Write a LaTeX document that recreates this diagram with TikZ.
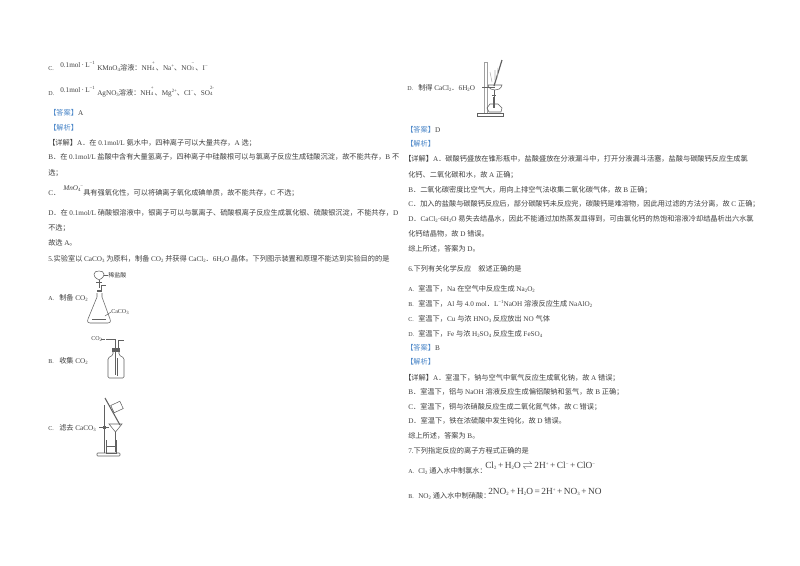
\documentclass[tikz,border=0pt]{standalone}
\usepackage{fontspec}
\setmainfont{Liberation Serif}
\newfontfamily\cjk{Noto Sans CJK SC}
\newXeTeXintercharclass\Zcl
\newcount\zc
\zc="3000 \loop \XeTeXcharclass\zc=\Zcl \advance\zc 1 \ifnum\zc<"A000 \repeat
\zc="FF00 \loop \XeTeXcharclass\zc=\Zcl \advance\zc 1 \ifnum\zc<"FFF0 \repeat
\XeTeXinterchartoks 0 \Zcl={\cjk}
\XeTeXinterchartoks \Zcl 0={\rmfamily}
\XeTeXinterchartoks 4095 \Zcl={\cjk}
\XeTeXinterchartoks 4095 0={\rmfamily}
\XeTeXinterchartokenstate=1
\newcounter{tn}
\definecolor{ink}{gray}{0.25}
\definecolor{lin}{gray}{0.38}
\definecolor{tag}{HTML}{4A86C8}
\tikzset{
  txt/.style={anchor=base west,inner sep=0pt,text=ink,font=\fontsize{5.4}{6.4}\selectfont},
  small/.style={font=\fontsize{4.5}{5}\selectfont},
  blue/.style={text=tag},
  eqn/.style={font=\fontsize{7}{8}\selectfont},
  app/.style={draw=lin,line width=0.4pt,fill=none},
}
\newcommand{\T}[4][]{\stepcounter{tn}\node[txt,#1] (t\arabic{tn}) at (#2,{#3+2.4}) {#4};}
\newcommand{\dn}[1]{\raisebox{-0.7pt}{\fontsize{3.6}{4}\selectfont #1}}
\newcommand{\up}[1]{\raisebox{2.4pt}{\fontsize{3.6}{4}\selectfont #1}}
\newcommand{\Ion}[2]{\rlap{\raisebox{4.5pt}{\fontsize{3.6}{4}\selectfont #1}}\raisebox{0.3pt}{\fontsize{3.6}{4}\selectfont #2}\hspace{1pt}}
\begin{document}
\begin{tikzpicture}[x=0.75pt,y=-0.75pt]
\useasboundingbox[fill=white] (0,0) rectangle (800,565);
% left column
\T[small]{48}{68}{C.}
\T{60}{65}{0.1mol\,·\,L\up{−1}}
\T{97}{68}{KMnO\dn{4}溶液：NH\Ion{+}{4}、Na\up{+}、NO\Ion{−}{3}、I\up{−}}
\T[small]{48}{93}{D.}
\T{60}{90}{0.1mol\,·\,L\up{−1}}
\T{97}{93}{AgNO\dn{3}溶液：NH\Ion{+}{4}、Mg\up{2+}、Cl\up{−}、SO\Ion{2-}{4}}
\T[blue]{49}{113}{【答案】\textcolor{ink}{A}}
\T[blue]{49}{128}{【解析】}
\T{48}{143}{【详解】A．在 0.1mol/L 氨水中，四种离子可以大量共存，A 选；}
\T{48}{157}{B．在 0.1mol/L 盐酸中含有大量氢离子，四种离子中硅酸根可以与氯离子反应生成硅酸沉淀，故不能共存，B 不}
\T{48}{173}{选；}
\T{48}{193}{C．}
\T{63}{188}{\textit{MnO}\dn{4}\up{−}}
\T{83}{193}{具有强氧化性，可以将碘离子氧化成碘单质，故不能共存，C 不选；}
\T{48}{213}{D．在 0.1mol/L 硝酸银溶液中，银离子可以与氯离子、硫酸根离子反应生成氯化银、硫酸银沉淀，不能共存，D}
\T{48}{228}{不选；}
\T{48}{243}{故选 A。}
\T{48}{259}{5.实验室以 CaCO\dn{3} 为原料，制备 CO\dn{2} 并获得 CaCl\dn{2}．6H\dn{2}O 晶体。下列图示装置和原理不能达到实验目的的是}
\T[small]{48}{298}{A.}
\T{59}{298}{制备 CO\dn{2}}
\T[small]{48}{361}{B.}
\T{59}{361}{收集 CO\dn{2}}
\T[small]{48}{428}{C.}
\T{59}{428}{滤去 CaCO\dn{3}}
% apparatus A
\draw[app] (94,274) .. controls (94,270) and (104,270) .. (104,274) .. controls (104,278) and (100,279) .. (99,280) .. controls (98,279) and (94,278) .. (94,274);
\draw[app] (99,280) -- (99,288);
\draw[app] (96,282) -- (102,282);
\draw[app,line width=2pt] (97,291) -- (102,291);
\draw[app] (97,293) -- (97,297) -- (88,319) .. controls (87,322) and (88,323) .. (90,323) -- (108,323) .. controls (110,323) and (111,322) .. (110,319) -- (102,297) -- (102,293);
\draw[app] (101,285) -- (101,290) (101,285) -- (106,285);
\draw[app] (92,319) -- (106,319);
\draw[app] (104,275) -- (108,275);
\T[small]{108}{275}{稀盐酸}
\draw[app] (105,316) -- (111,312);
\T[small]{111}{311}{CaCO\dn{3}}
% apparatus B
\T[small]{91}{338}{CO\dn{2}}
\draw[app] (101,339) -- (105,339);
\draw[app] (106,339.5) -- (115,339.5) -- (115,375);
\draw[app] (118,350) -- (118,340) -- (124,340);
\draw[app,line width=3pt] (112,350) -- (120,350);
\draw[app,rounded corners=1pt] (113,352) -- (113,355) -- (108,358) -- (108,378) -- (124,378) -- (124,358) -- (119,355) -- (119,352);
\draw[app] (117,358) -- (117,376);
% apparatus C
\draw[app,line width=0.7pt] (104,405) -- (104,453);
\draw[app,rounded corners=0.5pt] (97,453) rectangle (120,456);
\draw[app] (99,427) -- (109,427);
\draw[app] (103,426) rectangle (105,428);
\draw[app] (109,424) -- (122,424) -- (115.5,432) -- cycle;
\draw[app] (115.5,432) -- (115.5,452);
\draw[app] (106,440) -- (106,453) -- (116,453) -- (116,440);
\draw[app] (106,446) -- (116,446);
\draw[app,line width=0.8pt] (105,398) -- (120,425);
\draw[app,rotate around={25:(117,407)}] (112,403) rectangle (122,411);
% apparatus D
\T[small]{407}{88}{D.}
\T{418}{88}{制得 CaCl\dn{2}．6H\dn{2}O}
\draw[app,draw=lin!60] (484.5,62) -- (484.5,113) (487.5,62) -- (487.5,113) (484.5,62) -- (487.5,62);
\draw[app] (477,113) rectangle (503,116);
\draw[app] (482,87) -- (495,87);
\draw[app] (488,85) -- (502,85) .. controls (501,89) and (498,90) .. (495,90) .. controls (492,90) and (489,89) .. (488,85);
\draw[app,line width=0.9pt] (502,60) -- (494,86);
\draw[app,draw=lin!50] (492,82) -- (490,72) (495,80) -- (495,70) (497,78) -- (498,68);
\draw[app] (494,90) -- (494,97) (492,95) -- (496,95);
\draw[app,line width=0.9pt] (494,97) -- (494,108);
\draw[app] (490,104) -- (498,104) -- (502,108) -- (501,112) -- (489,112) -- (487,108) -- cycle;
% right column
\T[blue]{406}{130}{【答案】\textcolor{ink}{D}}
\T[blue]{406}{144}{【解析】}
\T{404}{159}{【详解】A．碳酸钙盛放在锥形瓶中，盐酸盛放在分液漏斗中，打开分液漏斗活塞，盐酸与碳酸钙反应生成氯}
\T{408}{175}{化钙、二氧化碳和水，故 A 正确；}
\T{408}{190}{B．二氧化碳密度比空气大，用向上排空气法收集二氧化碳气体，故 B 正确；}
\T{408}{204}{C．加入的盐酸与碳酸钙反应后，部分碳酸钙未反应完，碳酸钙是难溶物，因此用过滤的方法分离，故 C 正确；}
\T{408}{219}{D．CaCl\dn{2}·6H\dn{2}O 易失去结晶水，因此不能通过加热蒸发皿得到，可由氯化钙的热饱和溶液冷却结晶析出六水氯}
\T{408}{234}{化钙结晶物，故 D 错误。}
\T{408}{249}{综上所述，答案为 D。}
\T{408}{269}{6.下列有关化学反应\quad 叙述正确的是}
\T[small]{408}{289}{A.}
\T{418}{289}{室温下，Na 在空气中反应生成 Na\dn{2}O\dn{2}}
\T[small]{408}{304}{B.}
\T{418}{304}{室温下，Al 与 4.0 mol．L\up{−1}NaOH 溶液反应生成 NaAlO\dn{2}}
\T[small]{408}{319}{C.}
\T{418}{319}{室温下，Cu 与浓 HNO\dn{3} 反应放出 NO 气体}
\T[small]{408}{334}{D.}
\T{418}{334}{室温下，Fe 与浓 H\dn{2}SO\dn{4} 反应生成 FeSO\dn{4}}
\T[blue]{406}{348}{【答案】\textcolor{ink}{B}}
\T[blue]{406}{362}{【解析】}
\T{404}{378}{【详解】A．室温下，钠与空气中氧气反应生成氧化钠，故 A 错误；}
\T{408}{392}{B．室温下，铝与 NaOH 溶液反应生成偏铝酸钠和氢气，故 B 正确；}
\T{408}{407}{C．室温下，铜与浓硝酸反应生成二氧化氮气体，故 C 错误；}
\T{408}{421}{D．室温下，铁在浓硫酸中发生钝化，故 D 错误。}
\T{408}{436}{综上所述，答案为 B。}
\T{408}{451}{7.下列指定反应的离子方程式正确的是}
\T[small]{408}{471}{A.}
\T{418}{471}{Cl\dn{2} 通入水中制氯水：}
\T[eqn]{485}{466}{Cl\dn{2}\,+\,H\dn{2}O\,$\rightleftharpoons$\,2H\up{+}\,+\,Cl\up{−}\,+\,ClO\up{−}}
\T[small]{408}{496}{B.}
\T{418}{496}{NO\dn{2} 通入水中制硝酸：}
\T[eqn]{488}{492}{2NO\dn{2}\,+\,H\dn{2}O\,=\,2H\up{+}\,+\,NO\dn{3}\,+\,NO}
\end{tikzpicture}
\end{document}
